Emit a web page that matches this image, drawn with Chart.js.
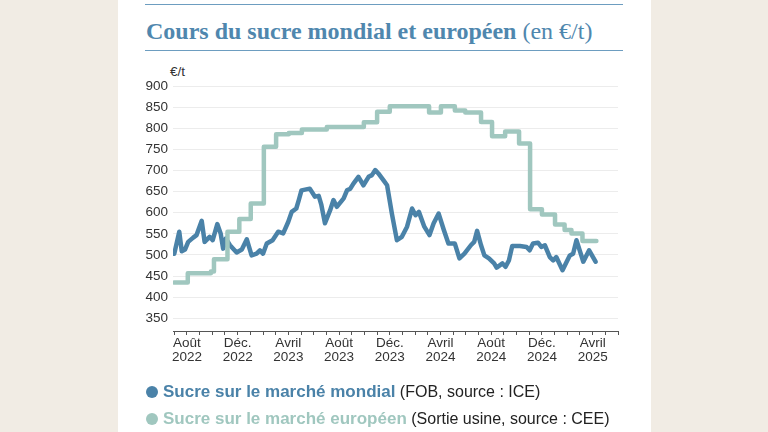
<!DOCTYPE html>
<html lang="fr">
<head>
<meta charset="utf-8">
<script src="https://cdn.jsdelivr.net/npm/chart.js@4.4.1/dist/chart.umd.min.js"></script>
<style>
	html, body {
		margin: 0;
		padding: 0;
		width: 768px;
		height: 432px;
		overflow: hidden;
		background: #f1ece4;
	}
	.carte {
		position: absolute;
		left: 118px;
		top: 0;
		width: 533px;
		height: 432px;
		background: #fff;
	}
	.filet {
		position: absolute;
		left: 145px;
		width: 478px;
		height: 0;
		border-top: 1.5px solid #6d9dc0;
	}
	.titre {
		position: absolute;
		left: 146px;
		top: 17px;
		font-family: "Liberation Serif", serif;
		font-size: 24px;
		line-height: 28px;
		color: #4f87ae;
		white-space: nowrap;
	}
	.titre b {
		font-weight: bold;
	}
	.unite {
		position: absolute;
		left: 170px;
		top: 64px;
		font-family: "Liberation Sans", sans-serif;
		font-size: 13.5px;
		color: #333;
	}
	.legende {
		position: absolute;
		left: 146px;
		font-family: "Liberation Sans", sans-serif;
		font-size: 16px;
		color: #222;
		white-space: nowrap;
		line-height: 20px;
	}
	.legende .pastille {
		display: inline-block;
		width: 12px;
		height: 12px;
		border-radius: 50%;
		margin-right: 5px;
		vertical-align: -1px;
	}
	.legende b {
		font-size: 17px;
	}
	canvas {
		position: absolute;
		left: 0;
		top: 0;
	}
</style>
</head>
<body>
<div class="carte"></div>
<div class="filet" style="top: 4px;"></div>
<div class="titre"><b>Cours du sucre mondial et européen</b> (en €/t)</div>
<div class="filet" style="top: 50px;"></div>
<div class="unite">€/t</div>
<canvas id="graphique" width="768" height="432"></canvas>
<div class="legende" style="top: 382px;"><span class="pastille" style="background:#4a82a8"></span><b style="color:#4a82a8">Sucre sur le marché mondial</b> (FOB, source : ICE)</div>
<div class="legende" style="top: 409px;"><span class="pastille" style="background:#a0c7bf"></span><b style="color:#a0c7bf">Sucre sur le marché européen</b> (Sortie usine, source : CEE)</div>

<script>
	// Sucre sur le marché mondial (FOB, ICE), relevés hebdomadaires
	const mondialDates = [
		'2022-07-01', '2022-07-13', '2022-07-19', '2022-07-27', '2022-08-04', '2022-08-16', '2022-08-24',
		'2022-09-06', '2022-09-13', '2022-09-25', '2022-10-02', '2022-10-13', '2022-10-21', '2022-10-27',
		'2022-11-03', '2022-11-13', '2022-11-29', '2022-12-11', '2022-12-23', '2023-01-04', '2023-01-16',
		'2023-01-24', '2023-02-01', '2023-02-10', '2023-02-24', '2023-03-07', '2023-03-19', '2023-03-31',
		'2023-04-09', '2023-04-20', '2023-04-26', '2023-05-02', '2023-05-22', '2023-06-04', '2023-06-13',
		'2023-06-19', '2023-06-28', '2023-07-10', '2023-07-18', '2023-07-26', '2023-08-12', '2023-08-20',
		'2023-08-28', '2023-09-05', '2023-09-17', '2023-09-29', '2023-10-11', '2023-10-19', '2023-10-27',
		'2023-11-04', '2023-11-16', '2023-11-25', '2023-12-06', '2023-12-18', '2023-12-30', '2024-01-12',
		'2024-01-24', '2024-02-02', '2024-02-10', '2024-02-23', '2024-03-05', '2024-03-15', '2024-03-27',
		'2024-04-09', '2024-04-20', '2024-05-05', '2024-05-16', '2024-05-28', '2024-06-13', '2024-06-21',
		'2024-06-28', '2024-07-07', '2024-07-15', '2024-07-26', '2024-08-08', '2024-08-14', '2024-08-28',
		'2024-09-05', '2024-09-13', '2024-09-21', '2024-10-09', '2024-10-25', '2024-11-02', '2024-11-10',
		'2024-11-22', '2024-11-30', '2024-12-08', '2024-12-20', '2024-12-28', '2025-01-05', '2025-01-20',
		'2025-01-30', '2025-02-07', '2025-02-15', '2025-02-23', '2025-03-09', '2025-03-23', '2025-04-08'
	];
	const mondialPrix = [
		503, 555, 509, 513, 531, 541, 547,
		581, 531, 543, 535, 573, 551, 515,
		539, 523, 506, 513, 537, 499, 503,
		511, 503, 527, 535, 555, 551, 578,
		602, 610, 630, 653, 657, 638, 640,
		620, 575, 606, 630, 614, 634, 653,
		657, 669, 685, 665, 685, 689, 701,
		693, 677, 665, 598, 535, 543, 567,
		610, 594, 602, 567, 547, 575, 598,
		559, 527, 527, 492, 503, 523, 531,
		557, 523, 499, 492, 480, 470, 480,
		472, 487, 521, 521, 519, 511, 527,
		529, 519, 523, 495, 487, 495, 464,
		484, 499, 503, 535, 484, 511, 484
	];

	// Sucre sur le marché européen (sortie usine, CEE) : date de début de chaque palier
	const europeDates = [
		'2022-07-01', '2022-08-03', '2022-09-28', '2022-10-05', '2022-11-07', '2022-12-05', '2023-01-02',
		'2023-02-03', '2023-03-02', '2023-04-02', '2023-05-03', '2023-07-02', '2023-09-30', '2023-11-01',
		'2023-12-01', '2024-03-04', '2024-04-02', '2024-05-05', '2024-05-30', '2024-07-07', '2024-08-03',
		'2024-09-04', '2024-10-07', '2024-11-03', '2024-12-01', '2025-01-02', '2025-01-25', '2025-02-11',
		'2025-03-07', '2025-04-10'
	];
	const europePrix = [
		435, 457, 461, 490, 555, 585, 622,
		756, 786, 789, 797, 803, 814, 839,
		852, 837, 852, 842, 837, 815, 781,
		792, 764, 608, 596, 572, 559, 551,
		533, 533
	];

	const yTicks = [350, 400, 450, 500, 550, 600, 650, 700, 750, 800, 850, 900];
	const xTickMois = [1, 5, 9, 13, 17, 21, 25, 29, 33];
	const xTickLabels = [
		['Août', '2022'], ['Déc.', '2022'], ['Avril', '2023'],
		['Août', '2023'], ['Déc.', '2023'], ['Avril', '2024'],
		['Août', '2024'], ['Déc.', '2024'], ['Avril', '2025']
	];

	const bleu = '#4a82a8';
	const vert = '#a0c7bf';

	// nombre de mois depuis juillet 2022
	function enMois(date) {
		const [a, m, j] = date.split('-').map(Number);
		return (a - 2022) * 12 + (m - 7) + (j - 1) / 30.44;
	}

	function points(dates, valeurs) {
		return dates.map((d, i) => ({x: enMois(d), y: valeurs[i]}));
	}

	const police = {family: '"Liberation Sans", sans-serif', size: 13.5, lineHeight: 1.0};

	new Chart(document.getElementById('graphique'), {
		type: 'line',
		data: {
			datasets: [{
				label: 'Sucre sur le marché européen',
				data: points(europeDates, europePrix),
				borderColor: vert,
				borderWidth: 4.5,
				stepped: true,
				pointRadius: 0,
				borderJoinStyle: 'round',
				borderCapStyle: 'round',
			}, {
				label: 'Sucre sur le marché mondial',
				data: points(mondialDates, mondialPrix),
				borderColor: bleu,
				borderWidth: 4.5,
				tension: 0,
				pointRadius: 0,
				borderJoinStyle: 'round',
				borderCapStyle: 'round',
			}]
		},
		options: {
			responsive: false,
			animation: false,
			layout: {
				padding: {left: 120, right: 150, top: 86, bottom: 61}
			},
			plugins: {
				legend: {display: false},
				tooltip: {enabled: false},
			},
			scales: {
				x: {
					type: 'linear',
					min: -0.1,
					max: 35,
					afterBuildTicks: (scale) => {
						const ticks = [];
						for (let m = 0; m <= 35; m++) ticks.push({value: m});
						scale.ticks = ticks;
					},
					afterFit: (scale) => {
						scale.height = 40;
					},
					grid: {
						drawOnChartArea: false,
						drawTicks: true,
						tickLength: 4,
						color: '#555',
					},
					border: {display: true, color: '#555', width: 1},
					ticks: {
						autoSkip: false,
						maxRotation: 0,
						padding: 2,
						color: '#333',
						font: police,
						callback: (value) => {
							const i = xTickMois.indexOf(value);
							return i >= 0 ? xTickLabels[i] : '';
						},
					},
				},
				y: {
					min: 320,
					max: 900,
					afterBuildTicks: (scale) => {
						scale.ticks = yTicks.map(v => ({value: v}));
					},
					afterFit: (scale) => {
						scale.width = 53;
					},
					grid: {
						color: '#ececec',
						lineWidth: 1,
						drawTicks: false,
					},
					border: {display: false},
					ticks: {
						padding: 5,
						color: '#333',
						font: police,
					},
				},
			},
		},
	});
</script>
</body>
</html>
